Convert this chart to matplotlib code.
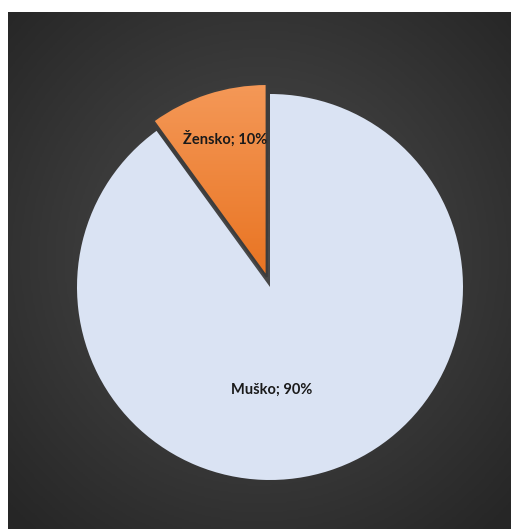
import numpy as np
import matplotlib.pyplot as plt
from matplotlib.colors import LinearSegmentedColormap
from matplotlib.patches import Wedge

labels = ["Žensko", "Muško"]
values = [10, 90]
colors = ["#F0843A", "#DAE3F3"]

W, H = 512, 531
fig = plt.figure(figsize=(W / 100, H / 100), dpi=100)
fig.patch.set_facecolor("white")

# background panel with radial gradient
bg = fig.add_axes([8 / W, 2 / H, 503 / W, 517 / H])
bg.set_axis_off()
yy, xx = np.mgrid[-1:1:300j, -1:1:300j]
rr = np.sqrt(xx ** 2 + (yy + 0.05) ** 2) / np.sqrt(2)
bgcmap = LinearSegmentedColormap.from_list("bg", ["#4a4a4a", "#3a3a3a", "#262626"])
bg.imshow(rr, cmap=bgcmap, vmin=0, vmax=1, extent=[0, 1, 0, 1], aspect="auto")

# pie axes
R = 193.0
cx, cy = 270.0, 287.0
pad = 215.0
ax = fig.add_axes([(cx - pad) / W, (H - cy - pad) / H, 2 * pad / W, 2 * pad / H])
ax.set_axis_off()
ax.patch.set_alpha(0)

wedges, _ = ax.pie(values, colors=colors, startangle=90, counterclock=True,
                   explode=[0.055, 0], radius=1.0,
                   wedgeprops=dict(linewidth=0))
ax.set_xlim(-pad / R, pad / R)
ax.set_ylim(-pad / R, pad / R)
ax.set_aspect("auto")

w0 = wedges[0]
# gradient fill for orange slice
gy = np.linspace(1, 0, 200).reshape(-1, 1)
ocmap = LinearSegmentedColormap.from_list("or", ["#E8721F", "#F59A5A"])
im = ax.imshow(gy, cmap=ocmap, extent=[-0.7, 0.1, 0.0, 1.1], aspect="auto",
               zorder=w0.get_zorder() + 0.1)
im.set_clip_path(w0)
ax.set_xlim(-pad / R, pad / R)
ax.set_ylim(-pad / R, pad / R)
edge = Wedge(w0.center, w0.r, w0.theta1, w0.theta2, facecolor="none",
             edgecolor="#3c3c3c", linewidth=1.6, zorder=w0.get_zorder() + 0.2)
ax.add_patch(edge)

font = ["Lato", "DejaVu Sans"]
ax.text(-0.235, 0.77, f"{labels[0]}; {values[0]}%", ha="center", va="center",
        fontsize=10.5, fontweight="bold", family=font, color="#1a1a1a", zorder=10)
ax.text(0.01, -0.535, f"{labels[1]}; {values[1]}%", ha="center", va="center",
        fontsize=10.5, fontweight="bold", family=font, color="#1a1a1a", zorder=10)

fig.savefig("out.png", dpi=100, facecolor="white")
